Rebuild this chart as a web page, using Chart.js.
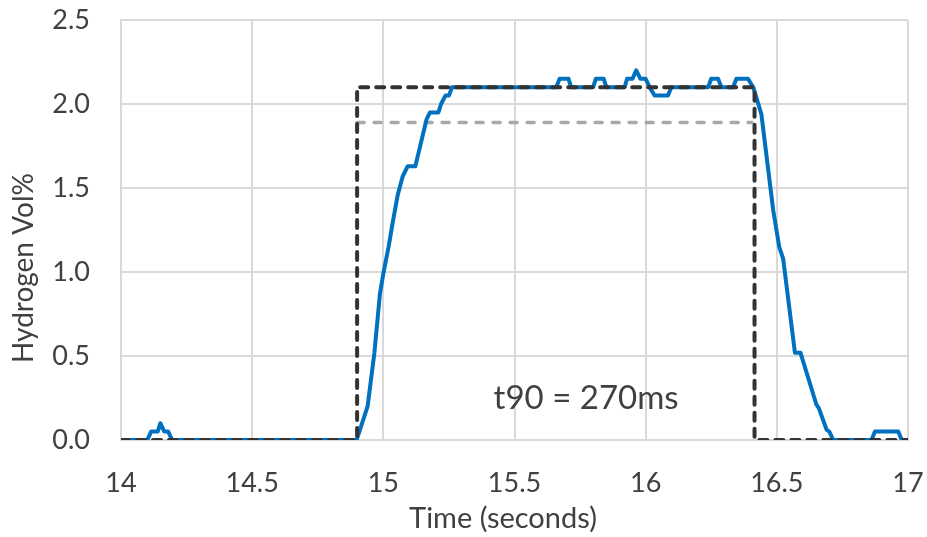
<!DOCTYPE html>
<html>
<head>
<meta charset="utf-8">
<script src="https://cdn.jsdelivr.net/npm/chart.js@4"></script>
<style>
  html, body { margin: 0; padding: 0; background: #fff; }
  #wrap { width: 927px; height: 537px; position: relative; }
</style>
</head>
<body>
<div id="wrap"><canvas id="grafico"></canvas></div>
<script>
// measured sensor trace (time in s, H2 vol%)
const sensorTime = [14.00, 14.10, 14.115, 14.14, 14.15, 14.165, 14.18, 14.195, 14.898, 14.94,
  14.966, 14.987, 15.00, 15.02, 15.033, 15.055, 15.074, 15.093, 15.122, 15.165,
  15.178, 15.21, 15.22, 15.237, 15.25, 15.262, 15.659, 15.672, 15.706, 15.716,
  15.80, 15.81, 15.84, 15.85, 15.92, 15.929, 15.95, 15.964, 15.98, 16.00,
  16.015, 16.034, 16.085, 16.098, 16.238, 16.25, 16.276, 16.289, 16.333, 16.346,
  16.39, 16.41, 16.441, 16.486, 16.509, 16.524, 16.569, 16.59, 16.651, 16.66,
  16.69, 16.70, 16.715, 16.861, 16.874, 16.963, 16.976, 17.00];
const sensorH2 = [0, 0, 0.05, 0.05, 0.10, 0.05, 0.05, 0, 0, 0.20,
  0.52, 0.87, 0.99, 1.15, 1.27, 1.46, 1.57, 1.63, 1.63, 1.91,
  1.95, 1.95, 2.00, 2.05, 2.05, 2.10, 2.10, 2.15, 2.15, 2.10,
  2.10, 2.15, 2.15, 2.10, 2.10, 2.15, 2.15, 2.20, 2.15, 2.15,
  2.10, 2.05, 2.05, 2.10, 2.10, 2.15, 2.15, 2.10, 2.10, 2.15,
  2.15, 2.10, 1.94, 1.37, 1.15, 1.08, 0.52, 0.52, 0.21, 0.19,
  0.06, 0.05, 0, 0, 0.05, 0.05, 0, 0];

// applied gas step
const stepTime = [14.0, 14.9, 14.9, 16.415, 16.415, 17.0];
const stepH2 = [0, 0, 2.1, 2.1, 0, 0];

// 90% level
const t90Time = [14.9, 16.405];
const t90H2 = [1.89, 1.89];

const xTickLabels = ["14", "14.5", "15", "15.5", "16", "16.5", "17"];
const yTickLabels = ["0.0", "0.5", "1.0", "1.5", "2.0", "2.5"];

function pares(xs, ys) {
  return xs.map(function (x, i) { return { x: x, y: ys[i] }; });
}

const textoCor = "#404040";

const rotulos = {
  id: "rotulos",
  afterDraw: function (chart) {
    const ctx = chart.ctx;
    const xs = chart.scales.x;
    const ys = chart.scales.y;
    ctx.save();
    ctx.fillStyle = textoCor;
    ctx.textAlign = "center";
    ctx.textBaseline = "middle";

    ctx.font = "33px Lato";
    ctx.fillText("t90 = 270ms", xs.getPixelForValue(15.773), ys.getPixelForValue(0.25));

    ctx.font = "29px Lato";
    ctx.fillText("Time (seconds)", 503, 519);

    ctx.font = "28px Lato";
    ctx.translate(24, 268);
    ctx.rotate(-Math.PI / 2);
    ctx.fillText("Hydrogen Vol%", 0, 0);
    ctx.restore();
  },
};

new Chart(document.getElementById("grafico"), {
  type: "scatter",
  data: {
    datasets: [
      {
        label: "Step",
        data: pares(stepTime, stepH2),
        showLine: true,
        borderColor: "#333333",
        borderWidth: 4,
        borderDash: [8, 8],
        borderCapStyle: "round",
        pointRadius: 0,
        order: 1,
      },
      {
        label: "Sensor",
        data: pares(sensorTime, sensorH2),
        showLine: true,
        borderColor: "#0070C0",
        borderWidth: 4,
        borderJoinStyle: "round",
        pointRadius: 0,
        order: 2,
      },
      {
        label: "90%",
        data: pares(t90Time, t90H2),
        showLine: true,
        borderColor: "#A5A9AC",
        borderWidth: 3.5,
        borderDash: [7, 10],
        borderCapStyle: "round",
        pointRadius: 0,
        order: 3,
      },
    ],
  },
  options: {
    responsive: true,
    maintainAspectRatio: false,
    animation: false,
    layout: { padding: { top: 20, right: 19, left: 0, bottom: 0 } },
    plugins: {
      legend: { display: false },
      tooltip: { enabled: false },
    },
    scales: {
      x: {
        type: "linear",
        min: 14,
        max: 17,
        afterFit: function (s) {
          s.height = 97;
          s.paddingLeft = 0;
          s.paddingRight = 0;
        },
        grid: { color: "#d9d9d9", lineWidth: 2, drawTicks: false },
        border: { color: "#d9d9d9", width: 2 },
        ticks: {
          stepSize: 0.5,
          padding: 27,
          color: textoCor,
          font: { family: "Lato", size: 27 },
          callback: function (v, i) { return xTickLabels[i]; },
        },
      },
      y: {
        min: 0,
        max: 2.5,
        afterFit: function (s) {
          s.width = 121;
          s.paddingTop = 0;
          s.paddingBottom = 0;
        },
        grid: { color: "#d9d9d9", lineWidth: 2, drawTicks: false },
        border: { color: "#d9d9d9", width: 2 },
        ticks: {
          stepSize: 0.5,
          padding: 31,
          color: textoCor,
          font: { family: "Lato", size: 27 },
          callback: function (v, i) { return yTickLabels[i]; },
        },
      },
    },
  },
  plugins: [rotulos],
});
</script>
</body>
</html>
